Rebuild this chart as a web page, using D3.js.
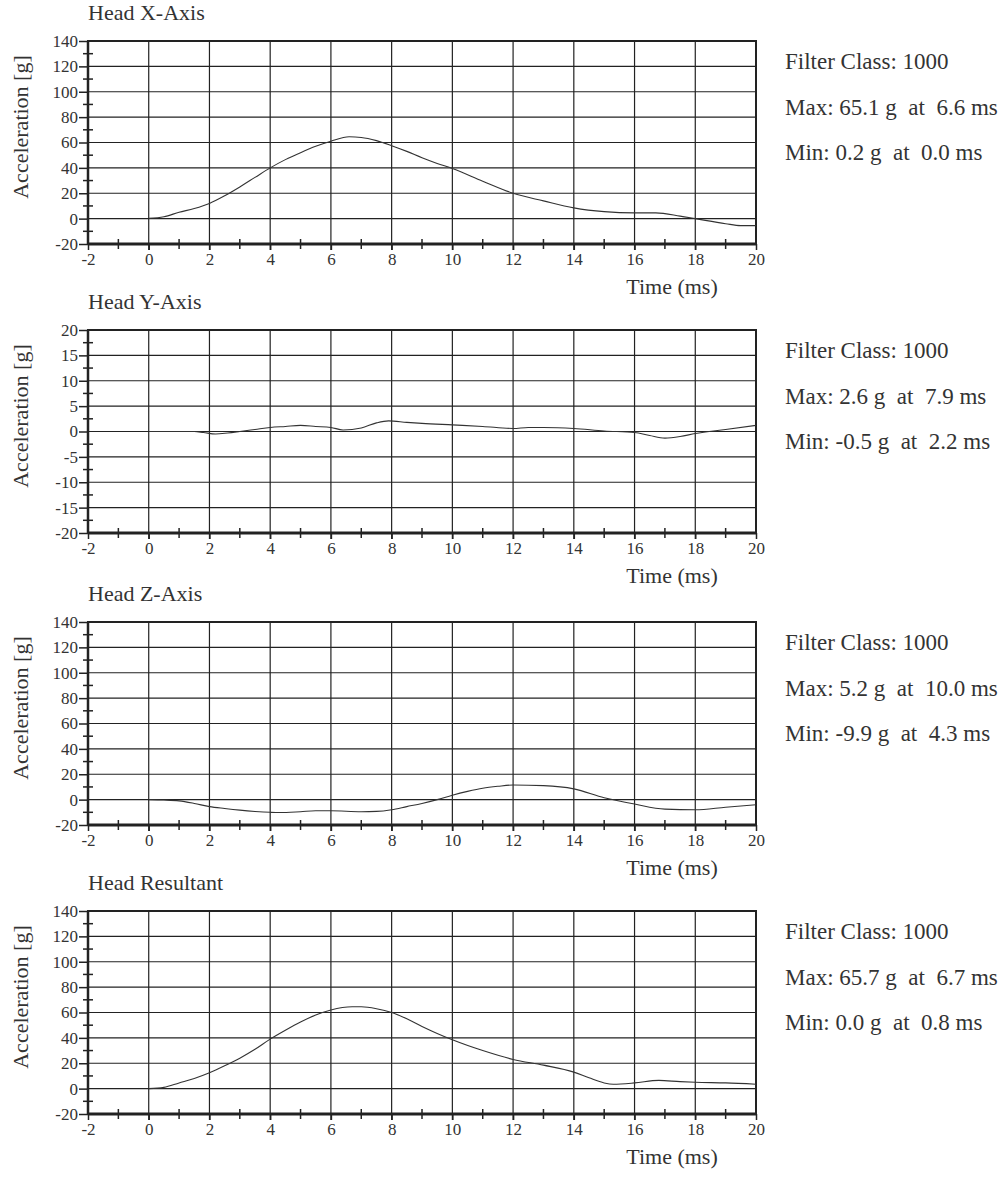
<!DOCTYPE html>
<html>
<head>
<meta charset="utf-8">
<script src="https://cdn.jsdelivr.net/npm/d3@7"></script>
<style>
body { margin: 0; background: #fff; }
svg text { font-family: "Liberation Serif", "DejaVu Serif", serif; fill: #333; }
</style>
</head>
<body>
<svg id="chart" width="1006" height="1177" style="font-family: 'Liberation Serif', 'DejaVu Serif', serif"></svg>
<script>
// tick values
var timeTicks = [-2, 0, 2, 4, 6, 8, 10, 12, 14, 16, 18, 20];
var timeMinor = [-1, 1, 3, 5, 7, 9, 11, 13, 15, 17, 19];
var accelTicksWide = [-20, 0, 20, 40, 60, 80, 100, 120, 140];
var accelTicksNarrow = [-20, -15, -10, -5, 0, 5, 10, 15, 20];

var titles = ["Head X-Axis", "Head Y-Axis", "Head Z-Axis", "Head Resultant"];
var filterClass = [1000, 1000, 1000, 1000];
var maxVals = ["65.1", "2.6", "5.2", "65.7"];
var maxTimes = ["6.6", "7.9", "10.0", "6.7"];
var minVals = ["0.2", "-0.5", "-9.9", "0.0"];
var minTimes = ["0.0", "2.2", "4.3", "0.8"];

// curves (time in ms, acceleration in g)
var headXTime = [0, 0.5, 1, 1.5, 2, 2.5, 3, 3.5, 4, 4.5, 5, 5.5, 6, 6.6, 7, 7.5, 8, 8.5, 9, 9.5, 10, 11, 12, 13, 14, 15, 16, 16.7, 17.5, 18, 19, 19.5, 20];
var headXAccel = [0.2, 1.5, 5, 8, 12, 18, 25, 32.5, 40, 46.5, 52, 57, 61, 64.5, 64, 61.5, 57.5, 53, 48, 43.5, 39.5, 29.5, 20, 14, 8.5, 5.5, 4.5, 4.5, 2, 0, -4, -5.5, -5.5];

var headYTime = [0, 1, 1.5, 1.8, 2.2, 2.6, 3, 3.5, 4, 4.5, 5, 5.5, 6, 6.4, 7, 7.5, 7.9, 8.5, 9, 10, 11, 12, 12.5, 13, 14, 15, 16, 16.5, 17, 17.5, 18, 19, 20];
var headYAccel = [0, 0, 0, -0.2, -0.5, -0.3, 0, 0.4, 0.8, 1.0, 1.2, 1.0, 0.8, 0.3, 0.7, 1.7, 2.1, 1.8, 1.6, 1.3, 1.0, 0.6, 0.8, 0.8, 0.6, 0.1, -0.2, -0.8, -1.3, -1.0, -0.4, 0.4, 1.2];

var headZTime = [0, 0.5, 1, 1.5, 2, 2.5, 3, 3.5, 4, 4.3, 5, 5.5, 6, 7, 7.5, 8, 8.5, 9, 9.5, 10, 10.5, 11, 11.5, 12, 13, 14, 15, 16, 17, 18, 19, 20];
var headZAccel = [0, -0.3, -1, -3, -5.5, -7, -8.3, -9.3, -10, -10.2, -9.5, -8.8, -8.8, -9.5, -9.3, -8, -5.5, -3, 0, 3.5, 6.5, 9, 10.5, 11.5, 11, 8.5, 1.5, -3.5, -7.5, -8, -6, -4];

var headRTime = [0, 0.5, 1, 1.5, 2, 2.5, 3, 3.5, 4, 4.5, 5, 5.5, 6, 6.7, 7, 7.5, 8, 8.5, 9, 9.5, 10, 11, 12, 13, 14, 14.5, 15, 15.3, 16, 16.8, 17.5, 18, 19, 20];
var headRAccel = [0, 1, 4.5, 8, 12.5, 18, 24, 31, 39, 46, 52.5, 58, 62, 64.5, 64.5, 63, 60, 55, 49, 43.5, 38.5, 30, 23, 18.5, 13, 8.5, 4.5, 3.5, 4.5, 6.5, 5.5, 5, 4.5, 3.5];

var seriesTime = [headXTime, headYTime, headZTime, headRTime];
var seriesAccel = [headXAccel, headYAccel, headZAccel, headRAccel];
var seriesTicks = [accelTicksWide, accelTicksNarrow, accelTicksWide, accelTicksWide];


var svg = d3.select("#chart");
var plotLeft = 88, plotRight = 756, plotHeight = 203;
var panelTops = [41, 330, 622, 911];
var ink = "#222";
var serif = "'Liberation Serif', 'DejaVu Serif', serif";

var x = d3.scaleLinear().domain([timeTicks[0], timeTicks[timeTicks.length - 1]]).range([plotLeft, plotRight]);

function drawPanel(p) {
    var pTop = panelTops[p];
    var pBottom = pTop + plotHeight;
    var ticks = seriesTicks[p];
    var y = d3.scaleLinear().domain([ticks[0], ticks[ticks.length - 1]]).range([pBottom, pTop]);
    var step = ticks[1] - ticks[0];
    var g = svg.append("g").attr("font-family", serif);

    // grid
    g.selectAll(".vgrid").data(timeTicks.slice(1, -1)).enter().append("line")
        .attr("x1", d => x(d)).attr("x2", d => x(d))
        .attr("y1", pTop).attr("y2", pBottom + 6)
        .attr("stroke", ink).attr("stroke-width", 1.2);
    g.selectAll(".hgrid").data(ticks.slice(1, -1)).enter().append("line")
        .attr("x1", plotLeft).attr("x2", plotRight)
        .attr("y1", d => y(d)).attr("y2", d => y(d))
        .attr("stroke", ink).attr("stroke-width", 1.2);

    // minor ticks crossing the axes
    g.selectAll(".xminor").data(timeMinor).enter().append("line")
        .attr("x1", d => x(d)).attr("x2", d => x(d))
        .attr("y1", pBottom - 5).attr("y2", pBottom + 5)
        .attr("stroke", ink).attr("stroke-width", 1.5);
    var yMinor = ticks.slice(0, -1).map(d => d + step / 2);
    g.selectAll(".yminor").data(yMinor).enter().append("line")
        .attr("x1", plotLeft - 5).attr("x2", plotLeft + 5)
        .attr("y1", d => y(d)).attr("y2", d => y(d))
        .attr("stroke", ink).attr("stroke-width", 1.5);

    // axes
    var xAxis = g.append("g")
        .attr("transform", "translate(0," + pBottom + ")")
        .call(d3.axisBottom(x).tickValues(timeTicks).tickSize(6).tickPadding(3).tickFormat(d => String(d)));
    var yAxis = g.append("g")
        .attr("transform", "translate(" + plotLeft + ",0)")
        .call(d3.axisLeft(y).tickValues(ticks).tickSize(9).tickPadding(1).tickFormat(d => String(d)));
    [xAxis, yAxis].forEach(function(a) {
        a.attr("font-family", serif).attr("font-size", 17);
        a.select(".domain").remove();
        a.selectAll("line").attr("stroke", ink).attr("stroke-width", 1.5);
        a.selectAll("text").attr("fill", "#333")
            .style("font-family", serif).style("font-size", "17px");
    });

    // frame
    g.append("rect")
        .attr("x", plotLeft).attr("y", pTop)
        .attr("width", plotRight - plotLeft).attr("height", plotHeight)
        .attr("fill", "none").attr("stroke", ink).attr("stroke-width", 2);
    g.append("line").attr("x1", plotLeft).attr("x2", plotRight)
        .attr("y1", pBottom).attr("y2", pBottom)
        .attr("stroke", ink).attr("stroke-width", 3);
    g.append("line").attr("x1", plotLeft).attr("x2", plotLeft)
        .attr("y1", pTop).attr("y2", pBottom)
        .attr("stroke", ink).attr("stroke-width", 2.5);

    // curve
    var pts = seriesTime[p].map((t, i) => [t, seriesAccel[p][i]]);
    var line = d3.line().x(d => x(d[0])).y(d => y(d[1])).curve(d3.curveMonotoneX);
    g.append("path").datum(pts)
        .attr("d", line)
        .attr("fill", "none").attr("stroke", "#333").attr("stroke-width", 1.1);

    // labels
    g.append("text").attr("x", plotLeft).attr("y", pTop - 21)
        .style("font-family", serif).style("font-size", "22px").text(titles[p]);
    g.append("text")
        .attr("transform", "translate(28," + (pTop + 86) + ") rotate(-90)")
        .attr("text-anchor", "middle")
        .style("font-family", serif).style("font-size", "22px").text("Acceleration [g]");
    g.append("text").attr("x", 672).attr("y", pBottom + 50)
        .attr("text-anchor", "middle")
        .style("font-family", serif).style("font-size", "22px").text("Time (ms)");

    var info = ["Filter Class: " + filterClass[p],
                "Max: " + maxVals[p] + " g  at  " + maxTimes[p] + " ms",
                "Min: " + minVals[p] + " g  at  " + minTimes[p] + " ms"];
    g.selectAll(".info").data(info).enter().append("text")
        .attr("x", 785)
        .attr("y", (d, i) => pTop + 28 + i * 45.5)
        .style("font-family", serif).style("font-size", "23px")
        .style("white-space", "pre")
        .text(d => d);
}

for (var p = 0; p < 4; p++) {
    drawPanel(p);
}
</script>
</body>
</html>
